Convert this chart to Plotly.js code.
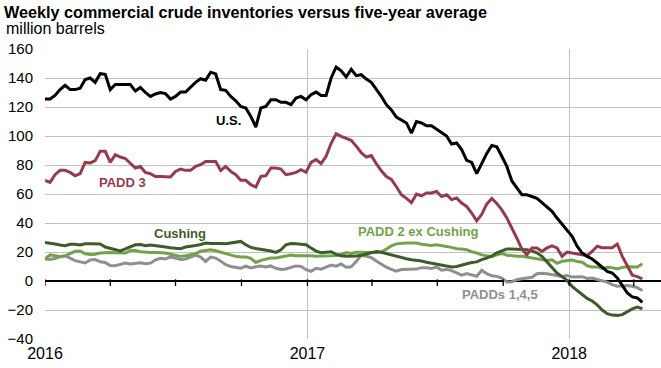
<!DOCTYPE html>
<html>
<head>
<meta charset="utf-8">
<script src="https://cdn.plot.ly/plotly-3.0.1.min.js"></script>
<style>html,body{margin:0;padding:0;background:#fff;}#chart{width:661px;height:368px;}</style>
</head>
<body>
<div id="chart"></div>
<script>
// Weekly observations (Fridays) starting 2016-01-01
const weekStart = '2016-01-01';

const usValues = [125.5,125.5,128,132,135,132,132,133,139,140,137,143,142.5,132,135.5,135.5,135,135.5,131,133.5,
130,127.3,129,130,129.2,125.5,127.3,130.3,130.3,134,137,139.5,138.5,144,142.8,132,131.5,127.3,124.3,120.4,
119.3,113.5,106.2,119.3,120.4,125,125,123.2,123.2,121.6,126.2,127.3,125,128.5,130.3,128,128,140,147.6,145,
140.7,146,141.6,142.3,139.3,137,132.4,127.3,121.6,118,113,111,109,102,110,109,107,107,104.8,102,
100,94.5,95.2,90.6,83.2,81.8,74,81,88,93.5,92.5,86,79,69,64,59.5,59.5,58.5,57,54,
51,48,43.4,39,35.4,30.8,24,19.3,17,15.2,12.4,9.7,6.6,5.5,2.1,-3,-8.3,-11,-11.7,-14.8];

const padd3Values = [69.4,68,73.3,76.3,76.3,74.9,72.6,74,81.8,81.4,83,89.4,89.4,81.8,87.1,85.5,84.5,81.4,77.9,79,
74.9,74,72.1,72,71.7,71.7,75.6,77.2,76.3,76.3,79,80.2,82.5,82.5,82.5,76.3,79,75.6,73.3,69.4,
69.4,66.4,64.8,72.1,72.6,77.9,77.9,77.2,73.3,74,74.9,76.8,75,81.8,83.7,81,86,95,101.5,99.7,
98.6,97,93,88.5,85.5,86.5,81,76,72,70,65,59.5,57,54,60,58.8,60.7,60.7,61.8,58.3,
59.5,56.1,57.2,53.8,51.4,46.9,41.5,46,53,57,53.5,49,43.5,37,29.5,22,18.1,22.8,22.8,20.4,
22.8,24.3,22.8,17,20,19.3,18.5,18.1,17.5,20.4,24,23,23,23,25.5,17,10.5,4,3,1.4];

const cushingValues = [26.6,26.3,25.5,24.8,24.3,25.3,25.4,24.8,25.7,25.7,25.7,25.5,23.4,22.5,21.2,20.8,22.1,23.5,25,25.2,
24.3,24.8,24.5,23.8,23.4,22.9,22.5,22.3,23.4,23.8,24.5,25.2,26.2,25.8,26,25.8,25.7,26.1,26.6,27.3,
25,23.2,22.4,22,21.6,20.7,19.7,21.5,25,25.9,25.7,25.3,25,22.8,20.6,19.5,19.8,20.2,18.4,17.4,
17,17,17.3,17.8,18.6,19.5,20.3,19.8,18.8,17.9,17,16.3,15.3,14.6,14.3,13.8,12.9,12.2,11.4,10.6,
10,9.7,10,11,12.2,12.7,13.2,14.8,15.8,17.3,19.4,20.6,22,22.1,22.1,22,21.6,20.7,19.5,17,
13.3,9.8,5.5,3,0.5,-3.7,-6.5,-9.8,-12,-13.8,-16.5,-20,-22.5,-23.5,-23.7,-23.2,-21.2,-19.2,-18,-19.1];

const padd2ExCushingValues = [15.2,18,17.5,16.8,17.4,18.8,20.5,20.6,18.8,18.3,18.5,19.3,19.7,19.7,19.5,19.3,19.3,21,21,20.2,
19.7,19.7,19.7,19.6,19.3,18.4,17.5,17,17.4,17.9,18.9,20.5,21.1,21.5,20.9,20,18.8,17.8,17,16.6,
16.6,15.6,12.8,14.2,15.3,15.9,15.9,16.6,17.6,17.9,17.5,17.5,17.8,17.4,17,17,17.4,17.2,17.5,18.3,
19.6,19,19.8,19.8,19.5,19.7,19.7,20,22,24.3,25.6,26,26.2,26.2,26.2,25.4,24.7,24.5,25,24.2,
23.8,23.2,22.2,22.1,21.6,20.2,19.4,18,17.2,16.8,18,19,17.8,17.2,17,17,16.4,15.7,15.3,15,
14.2,14.6,12.2,13.6,14.2,14.4,13.5,13,10.5,9.7,9.7,8.6,9.4,9.2,8.3,9.4,9.9,9.9,9.7,11.9];

const padds145Values = [15.2,14.8,15.5,16.8,17.4,15.8,14,13.2,12.4,14.5,14.8,13.2,12.8,10.6,10.5,11.5,12.4,11.8,12.3,12.5,
11.9,12.3,14.5,15.7,15.2,16.6,15.8,14.8,15.2,16.5,17.8,16.5,13.5,16.5,15.8,13.7,11.2,10,9.3,8.8,
10.2,9,9.8,10.4,9.7,10.4,8.8,8,8.3,9.4,10.4,10.1,7.8,6.7,8.8,8.2,9.5,11,10.2,11.7,
9.5,9.8,13.5,17.7,17.1,16.1,13.8,11.4,9.5,8,6.8,7.9,8.1,7.9,8.2,9.2,9.2,8.6,9.6,7.5,
8,7.2,5.8,4.1,5.2,4.2,3.3,7.4,5,3.6,3.2,2,-0.7,-0.5,0.9,1.5,2.2,2.6,5,5.3,
5,4.6,3.8,3.2,3.8,2.7,2.8,3,1.8,2,1,0,-0.8,-2.5,-3.6,-3.4,-3.1,-3.6,-4.6,-6.6];

const seriesNames = ['U.S.', 'PADD 3', 'Cushing', 'PADD 2 ex Cushing', 'PADDs 1,4,5'];
const yearTicks = ['2016-01-01', '2017-01-01', '2018-01-01'];
const yearLabels = ['2016', '2017', '2018'];
const quarterTicks = ['2016-01-01','2016-04-01','2016-07-01','2016-10-01','2017-01-01','2017-04-01',
  '2017-07-01','2017-10-01','2018-01-01','2018-04-01'];
const yTicks = [-40,-20,0,20,40,60,80,100,120,140,160];

// build weekly date categories
function weeklyDates(start, n) {
  const out = [];
  const d0 = new Date(start + 'T00:00:00Z');
  for (let i = 0; i < n; i++) {
    const d = new Date(d0.getTime() + i * 7 * 86400000);
    out.push(d.toISOString().slice(0, 10));
  }
  return out;
}
const dates = weeklyDates(weekStart, usValues.length);

const colors = ['#000000', '#953B4D', '#3E5C2B', '#72A348', '#8F8F8F'];
const valueSets = [usValues, padd3Values, cushingValues, padd2ExCushingValues, padds145Values];
const drawOrder = [4, 3, 2, 1, 0];

const traces = drawOrder.map(k => ({
  type: 'scatter', mode: 'lines', name: seriesNames[k],
  x: dates, y: valueSets[k],
  line: {color: colors[k], width: 3},
  hoverinfo: 'skip'
}));

const FONT = 'Arial, "Liberation Sans", sans-serif';

const labelPos = [
  {x: '2016-09-13', y: 111},
  {x: '2016-04-18', y: 68},
  {x: '2016-07-07', y: 32.6},
  {x: '2017-06-04', y: 34},
  {x: '2017-09-26', y: -9.6}
];

const annotations = seriesNames.map((n, k) => ({
  x: labelPos[k].x, y: labelPos[k].y, xref: 'x', yref: 'y',
  text: n, showarrow: false, xanchor: 'center', yanchor: 'middle',
  font: {family: FONT, size: 13, color: colors[k], weight: 'bold'}
}));
annotations.push({
  xref: 'paper', yref: 'paper', x: -0.0666, y: 1.072, xanchor: 'left', yanchor: 'middle',
  text: 'million barrels', showarrow: false,
  font: {family: FONT, size: 16, color: '#000'}
});

const shapes = quarterTicks.map(q => ({
  type: 'line', xref: 'x', yref: 'y', x0: q, x1: q, y0: 1.2, y1: -3.4,
  line: {color: '#000', width: 1.3}
}));

const layout = {
  width: 661, height: 368,
  margin: {l: 45, r: 0, t: 49, b: 29},
  paper_bgcolor: '#fff', plot_bgcolor: '#fff',
  showlegend: false,
  font: {family: FONT, color: '#000'},
  title: {
    text: 'Weekly commercial crude inventories versus five-year average',
    x: 4/661, xref: 'container', xanchor: 'left',
    y: 1 - 12/368, yref: 'container', yanchor: 'middle',
    font: {family: FONT, size: 16.2, weight: 'bold', color: '#000'}
  },
  xaxis: {
    type: 'date', range: ['2016-01-01', '2018-05-09'],
    tickmode: 'array', tickvals: yearTicks, ticktext: yearLabels,
    showgrid: true, gridcolor: '#C0C0C0', gridwidth: 1,
    zeroline: false, showline: false, ticks: '',
    ticklabelstandoff: 3,
    tickfont: {family: FONT, size: 16, color: '#000'}
  },
  yaxis: {
    range: [-40, 160], tickmode: 'array', tickvals: yTicks,
    showgrid: true, gridcolor: '#C0C0C0', gridwidth: 1,
    zeroline: true, zerolinecolor: '#000', zerolinewidth: 1.5,
    showline: false, ticks: '',
    ticklabelstandoff: 11,
    tickfont: {family: FONT, size: 15, color: '#000'}
  },
  annotations: annotations,
  shapes: shapes
};

Plotly.newPlot('chart', traces, layout, {displayModeBar: false, staticPlot: true});
</script>
</body>
</html>
